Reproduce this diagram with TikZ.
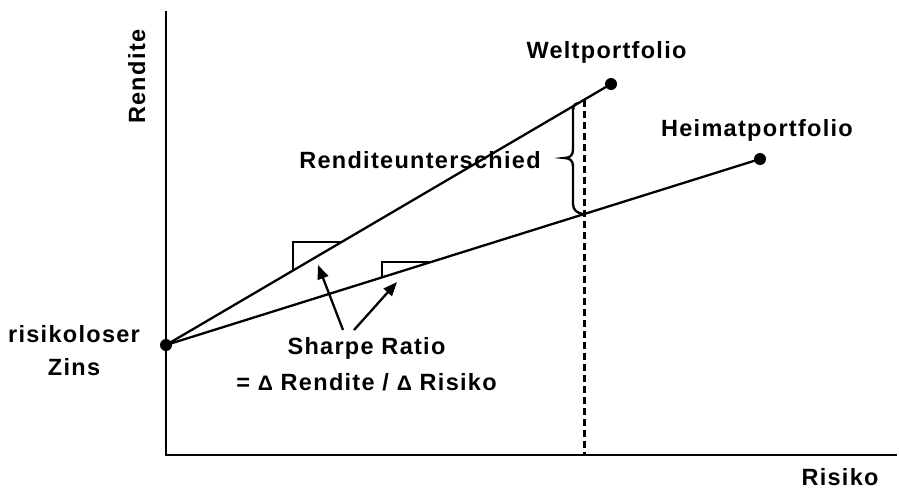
\documentclass[tikz,border=0pt]{standalone}
\usepackage{fontspec}
\newfontfamily\lab[LetterSpace=5.5]{Liberation Sans}
\usetikzlibrary{arrows.meta}
\begin{document}
\begin{tikzpicture}[x=1pt,y=-1pt,
  lbl/.style={font=\lab\bfseries\fontsize{23.5}{33}\selectfont, inner sep=0pt},
  ax/.style={line width=2.8pt},
  ln/.style={line width=2.3pt},
  dot/.style={circle,fill=black,minimum size=12pt,inner sep=0pt},
  arr/.style={line width=2.3pt,-{Triangle[length=14pt,width=11pt]}}]
\useasboundingbox (0,0) rectangle (899,490);
% axes
\coordinate (ytop) at (166,11);
\coordinate (orig) at (166,455);
\coordinate (xend) at (897,455);
\draw[ax] (ytop) -- (orig) -- (xend);
% portfolios
\node[dot] (rf) at (166,345) {};
\node[dot] (welt) at (611,84) {};
\node[dot] (heim) at (760,159) {};
\draw[ln] (rf.center) -- (welt.center);
\draw[ln] (rf.center) -- (heim.center);
% dashed line
\coordinate (dtop) at (584,100);
\coordinate (dbot) at (584,455);
\draw[line width=3pt, dash pattern=on 7pt off 4pt] (dtop) -- (dbot);
% slope triangles
\coordinate (t1a) at (293,270.5);
\coordinate (t1b) at (293,242);
\coordinate (t1c) at (341.6,242);
\draw[ln] (t1a) -- (t1b) -- (t1c);
\coordinate (t2a) at (382,277.4);
\coordinate (t2b) at (382,262);
\coordinate (t2c) at (431,262);
\draw[ln] (t2a) -- (t2b) -- (t2c);
% brace
\draw[ln] (578,103) .. controls (573,104) and (573,108) .. (573,114) -- (573,150)
  .. controls (573,156) and (569,158) .. (564,158)
  .. controls (569,158) and (573,160) .. (573,166) -- (573,204)
  .. controls (573,210) and (577,213) .. (583,214);
% labels
\node[lbl, anchor=base] (weltlab) at (606.5,58) {Weltportfolio};
\node[lbl, anchor=base] (heimlab) at (757,136) {Heimatportfolio};
\node[lbl, anchor=base] (rulab) at (420,168) {Renditeunterschied};
\node[lbl, anchor=base, align=center] (rflab) at (74,375) {risikoloser\\Zins};
\node[lbl, anchor=base, align=center] (srlab) at (366.5,390) {Sharpe Ratio\\[3pt]= {\fontsize{21}{20}\selectfont Δ} Rendite / {\fontsize{21}{20}\selectfont Δ} Risiko};
\node[lbl, anchor=base] (xlab) at (840,485) {Risiko};
\node[lbl, rotate=90, anchor=base] (ylab) at (145,76.7) {Rendite};
% arrows
\coordinate (a1s) at (343,330);
\coordinate (a1e) at (318,265);
\coordinate (a2s) at (354,330);
\coordinate (a2e) at (397,282);
\draw[arr] (a1s) -- (a1e);
\draw[arr] (a2s) -- (a2e);
\end{tikzpicture}
\end{document}
